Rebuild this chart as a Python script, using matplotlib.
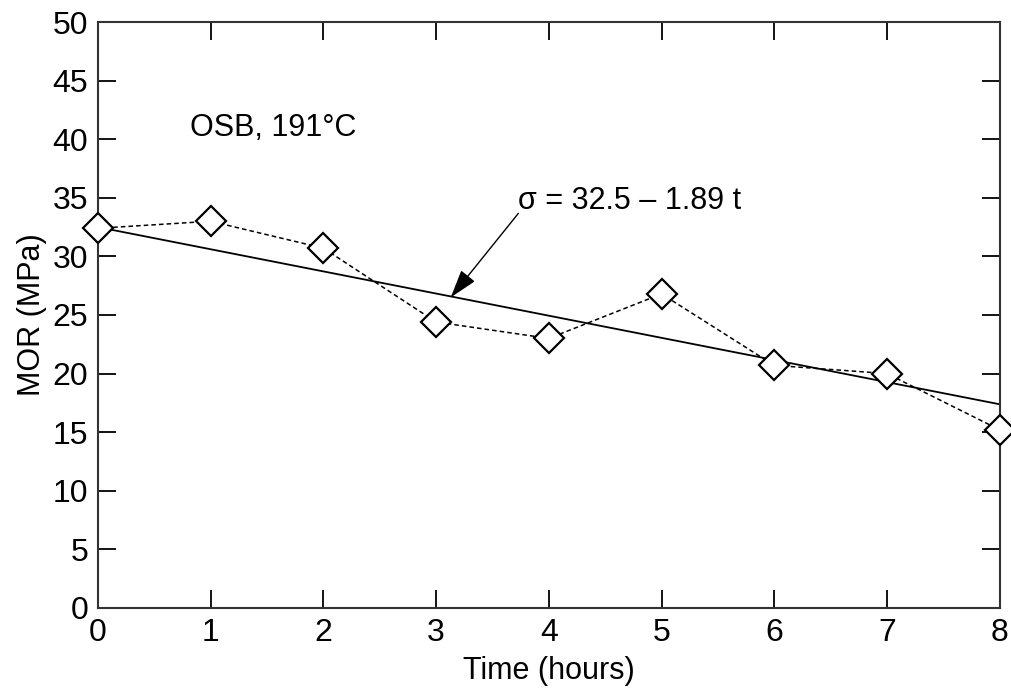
import numpy as np
import matplotlib
matplotlib.use("Agg")
import matplotlib.pyplot as plt

plt.rcParams['font.family'] = ['Liberation Sans', 'DejaVu Sans']

t_hours = [0, 1, 2, 3, 4, 5, 6, 7, 8]
mor = [32.4, 33.0, 30.7, 24.4, 23.0, 26.8, 20.7, 20.0, 15.2]
fit_a, fit_b = 32.5, -1.89

fig = plt.figure(figsize=(10.12, 6.9), dpi=100)
ax = fig.add_axes([0.0968, 0.119, 0.891, 0.849])

t_fit = np.array([0, 8])
ax.plot(t_fit, fit_a + fit_b * t_fit, color='black', lw=1.3, zorder=2)
ax.plot(t_hours, mor, color='black', lw=1.1, ls=(0, (3, 2)), marker='D',
        ms=15, mfc='white', mec='black', mew=1.6, zorder=3, clip_on=False)

ax.set_xlim(0, 8)
ax.set_ylim(0, 50)
ax.set_xticks(range(0, 9))
ax.set_yticks(range(0, 51, 5))
ax.tick_params(direction='in', length=13, width=1.3, top=True, right=True,
               labelsize=23, pad=7)
for s in ax.spines.values():
    s.set_linewidth(1.5)
    s.set_color('#333333')

ax.set_xlabel('Time (hours)', fontsize=22, labelpad=6)
ax.set_ylabel('MOR (MPa)', fontsize=22, labelpad=4)

ax.text(0.82, 41.0, 'OSB, 191°C', fontsize=22, ha='left', va='center')
ax.annotate('σ = 32.5 – 1.89 t', xy=(3.13, 26.5), xytext=(3.73, 34.7),
            fontsize=22, ha='left', va='center',
            arrowprops=dict(arrowstyle='-|>,head_length=0.8,head_width=0.25',
                            color='black', lw=1.0, shrinkA=0, shrinkB=0,
                            patchA=None, relpos=(0, 0.1)))

fig.savefig('out.png', dpi=100)
